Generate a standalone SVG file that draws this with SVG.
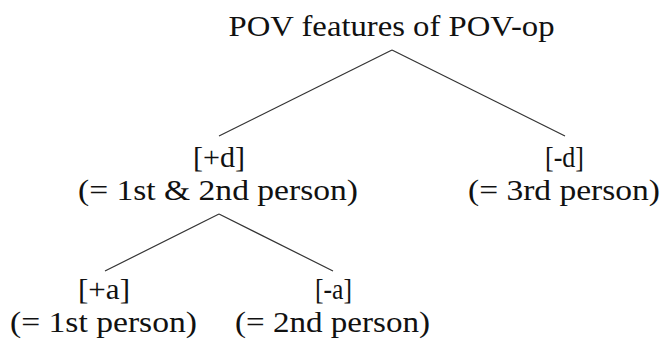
<svg xmlns="http://www.w3.org/2000/svg" width="663" height="339" viewBox="0 0 663 339">
  <style>
    text { font-family: 'Times New Roman', 'Liberation Serif', serif; font-size: 30px; fill: #111; text-anchor: middle; }
    .edge { stroke: #333; stroke-width: 1.2; fill: none; }
  </style>
  <rect width="663" height="339" fill="#fff"/>
  <g id="connectors">
    <line class="edge" x1="392" y1="50" x2="219" y2="136"/>
    <line class="edge" x1="392" y1="50" x2="565" y2="136"/>
    <line class="edge" x1="219" y1="214" x2="105" y2="271"/>
    <line class="edge" x1="219" y1="214" x2="333" y2="271"/>
  </g>
  <g id="root">
    <text x="391.5" y="36" textLength="326" lengthAdjust="spacingAndGlyphs">POV features of POV-op</text>
  </g>
  <g id="plus-d">
    <text x="219" y="167" textLength="52" lengthAdjust="spacingAndGlyphs">[+d]</text>
    <text x="218" y="200" textLength="280" lengthAdjust="spacingAndGlyphs">(= 1st &amp; 2nd person)</text>
  </g>
  <g id="minus-d">
    <text x="564.5" y="167" textLength="39" lengthAdjust="spacingAndGlyphs">[-d]</text>
    <text x="564" y="200" textLength="192" lengthAdjust="spacingAndGlyphs">(= 3rd person)</text>
  </g>
  <g id="plus-a">
    <text x="104" y="299" textLength="52" lengthAdjust="spacingAndGlyphs">[+a]</text>
    <text x="103.5" y="332" textLength="187" lengthAdjust="spacingAndGlyphs">(= 1st person)</text>
  </g>
  <g id="minus-a">
    <text x="333.5" y="299" textLength="37" lengthAdjust="spacingAndGlyphs">[-a]</text>
    <text x="332.5" y="332" textLength="195" lengthAdjust="spacingAndGlyphs">(= 2nd person)</text>
  </g>
</svg>
